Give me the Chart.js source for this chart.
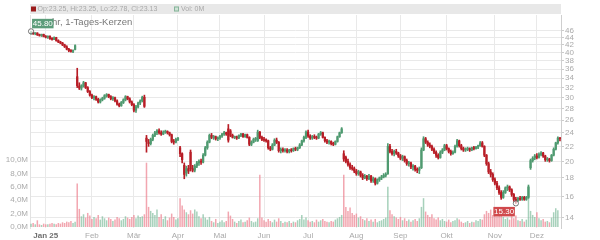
<!DOCTYPE html>
<html><head><meta charset="utf-8">
<script src="https://cdn.jsdelivr.net/npm/chart.js@4.4.1/dist/chart.umd.min.js"></script>
<style>html,body{margin:0;padding:0;background:#fff}#wrap{width:600px;height:240px;position:relative}</style>
</head><body><div id="wrap"><canvas id="c" width="600" height="240"></canvas></div>
<script>
// ---- categories: trading days (Dec 2024 - Dec 2025) ----
const tradingDays = {
 '2024-12': [17,18,19,20,23,27,30],
 '2025-01': [2,3,6,7,8,9,10,13,14,15,16,17,20,21,22,23,24,27,28,29,30,31],
 '2025-02': [3,4,5,6,7,10,11,12,13,14,17,18,19,20,21,24,25,26,27,28],
 '2025-03': [3,4,5,6,7,10,11,12,13,14,17,18,19,20,21,24,25,26,27,28,31],
 '2025-04': [1,2,3,4,7,8,9,10,11,14,15,16,17,22,23,24,25,28,29,30],
 '2025-05': [2,5,6,7,8,9,12,13,14,15,16,19,20,21,22,23,26,27,28,29,30],
 '2025-06': [2,3,4,5,6,9,10,11,12,13,16,17,18,19,20,23,24,25,26,27,30],
 '2025-07': [1,2,3,4,7,8,9,10,11,14,15,16,17,18,21,22,23,24,25,28,29,30,31],
 '2025-08': [1,4,5,6,7,8,11,12,13,14,15,18,19,20,21,22,25,26,27,28,29],
 '2025-09': [1,2,3,4,5,8,9,10,11,12,15,16,17,18,19,22,23,24,25,26,29,30],
 '2025-10': [1,2,3,6,7,8,9,10,13,14,15,16,17,20,21,22,23,24,27,28,29,30,31],
 '2025-11': [3,4,5,6,7,10,11,12,13,14,17,18,19,20,21,24,25,26,27,28],
 '2025-12': [1,2,3,4,5,8,9,10,11,12,15,16]
};
const monthTickLabels = {'2025-01':'Jan 25','2025-02':'Feb','2025-03':'Mär','2025-04':'Apr','2025-05':'Mai','2025-06':'Jun','2025-07':'Jul','2025-08':'Aug','2025-09':'Sep','2025-10':'Okt','2025-11':'Nov','2025-12':'Dez'};
const yearTickLabel = 'Jan 25';

// ---- series values ----
const openP = [45.2,45.5,45.1,45.3,44.8,44.6,44.9,44.3,44.1,44.4,43.7,43.5,44.0,43.2,42.8,42.5,42.0,41.5,40.9,40.5,40.3,40.8,
34.3,32.3,31.9,32.3,33.0,32.0,31.2,30.5,30.0,30.2,29.7,29.2,29.6,29.9,30.4,30.6,30.2,29.8,30.0,29.4,28.8,28.5,29.1,29.6,30.2,29.8,29.2,28.7,27.7,28.3,29.0,29.4,30.1,
23.2,22.6,22.4,23.0,23.6,24.0,24.3,24.0,23.8,24.1,24.2,24.0,23.7,22.7,22.6,23.0,
21.8,21.0,19.5,18.6,19.1,21.2,19.1,18.9,19.4,19.8,20.0,19.9,20.8,21.8,22.6,23.6,23.3,23.4,23.1,23.2,23.5,23.8,24.0,24.6,24.3,23.6,23.3,23.4,23.2,23.6,23.8,23.4,23.7,23.3,22.3,22.6,23.0,22.8,
24.1,23.3,23.0,22.9,22.8,21.8,21.6,22.2,22.9,22.6,21.4,21.6,21.4,21.5,21.3,21.5,21.4,21.7,21.6,21.8,22.2,22.8,23.3,24.1,23.5,23.2,23.4,23.3,23.2,23.8,24.0,23.3,22.8,22.6,22.7,22.4,22.3,22.7,23.4,24.0,
21.0,20.5,20.0,19.6,19.2,19.1,18.8,18.5,18.7,18.3,18.0,18.2,17.9,18.2,17.7,17.9,17.4,17.8,18.0,18.1,18.3,
18.5,22.0,21.3,21.0,21.3,21.1,20.7,20.4,20.6,20.1,19.7,19.8,19.3,19.4,19.0,18.9,19.2,21.5,23.1,22.6,22.2,22.0,21.6,21.2,20.8,20.5,21.2,21.5,22.1,21.7,21.3,21.0,21.2,22.0,22.8,22.1,21.7,21.5,21.6,21.7,21.5,21.8,21.7,21.9,22.1,22.5,
22.0,20.8,19.7,18.7,18.4,17.8,17.4,16.9,16.4,15.9,16.4,16.9,17.0,16.7,16.2,15.7,15.6,15.8,15.7,15.9,15.7,15.9,
19.2,20.1,20.4,20.7,20.5,20.9,21.1,20.7,20.2,20.3,20.1,20.8,21.6,22.5,23.25];
const highP = [45.8,45.6,45.4,45.4,45.0,45.0,45.0,44.6,44.5,44.5,44.0,44.2,44.1,43.4,43.0,42.7,42.2,41.8,41.1,40.8,40.7,42.0,
36.2,33.0,32.6,33.3,33.1,32.2,31.4,30.7,30.4,30.3,29.9,29.8,30.1,30.6,30.8,30.7,30.4,30.2,30.1,29.6,29.0,29.3,29.8,30.4,30.3,30.0,29.4,28.9,28.6,29.2,29.6,30.3,30.5,
23.6,23.0,23.2,23.8,24.2,24.5,24.6,24.3,24.3,24.4,24.3,24.1,23.8,23.0,23.2,23.3,
22.0,21.1,19.8,19.4,19.5,21.5,19.5,19.6,20.0,20.2,20.3,21.0,22.0,22.8,23.8,23.9,23.6,23.5,23.4,23.6,23.9,24.2,24.1,25.3,24.5,23.8,23.5,23.5,23.7,23.9,23.9,23.8,23.8,23.4,22.8,23.2,23.3,24.4,
24.2,23.5,23.3,23.1,22.9,22.0,22.4,23.1,23.2,22.7,21.8,21.8,21.7,21.7,21.6,21.7,21.8,21.9,21.9,22.4,22.9,23.5,24.3,24.4,23.7,23.6,23.7,23.5,23.9,24.2,24.1,23.4,23.0,22.9,22.8,22.6,22.8,23.5,24.1,24.8,
21.4,20.7,20.3,19.8,19.5,19.3,19.0,18.9,18.8,18.5,18.4,18.3,18.4,18.3,18.1,18.0,17.9,18.1,18.3,18.5,18.6,
22.4,22.3,21.6,21.5,21.6,21.2,20.9,20.8,20.7,20.3,20.0,19.9,19.6,19.5,19.2,19.3,21.8,23.4,23.3,22.8,22.5,22.2,21.8,21.4,21.0,21.4,21.7,22.3,22.3,21.8,21.5,21.4,22.2,23.0,22.9,22.3,21.9,21.8,21.9,21.8,21.9,22.0,22.0,22.2,22.7,22.7,
22.1,20.9,19.9,19.0,18.6,18.0,17.6,17.1,16.6,16.6,17.0,17.2,17.1,16.8,16.3,15.9,15.9,16.0,16.0,16.0,16.0,17.2,
20.3,20.6,20.9,21.0,21.1,21.3,21.2,20.8,20.5,20.4,20.9,21.8,22.6,23.4,23.25];
const lowP = [45.0,44.9,44.8,44.6,44.4,44.3,44.2,43.9,43.8,43.5,43.3,43.4,43.0,42.6,42.3,41.8,41.3,40.7,40.2,40.1,40.0,40.7,
32.0,31.6,31.5,32.1,31.8,31.0,30.3,29.8,29.6,29.5,29.0,29.0,29.4,29.7,30.1,30.0,29.6,29.5,29.2,28.6,28.3,28.4,28.9,29.4,29.6,29.0,28.5,27.4,27.3,28.1,28.7,29.2,28.2,
21.2,22.0,22.2,22.8,23.4,23.7,23.8,23.6,23.7,23.9,23.8,23.5,22.5,22.3,22.5,22.8,
20.6,19.8,17.9,18.2,18.5,18.8,18.7,18.7,19.2,19.5,19.6,19.8,20.7,21.6,22.5,23.1,23.0,22.9,22.8,23.0,23.3,23.6,23.6,22.6,23.4,23.2,23.1,23.0,23.1,23.4,23.3,23.3,23.2,22.1,22.1,22.5,22.7,22.7,
23.1,22.8,22.7,22.6,21.6,21.4,21.5,22.1,22.4,21.2,21.1,21.2,21.2,21.1,21.1,21.2,21.3,21.4,21.4,21.7,22.1,22.6,23.1,23.3,23.0,23.0,23.1,23.0,23.1,23.6,23.2,22.6,22.4,22.3,22.2,22.1,22.2,22.6,23.3,23.9,
20.0,19.8,19.4,19.0,18.9,18.6,18.3,18.3,18.1,17.8,17.9,17.7,17.8,17.5,17.5,17.2,17.3,17.6,17.8,18.0,18.1,
18.4,21.1,20.8,20.7,20.9,20.5,20.2,20.1,19.9,19.5,19.4,19.1,18.9,18.8,18.6,18.5,19.1,21.4,22.4,22.0,21.8,21.4,21.0,20.5,20.3,20.4,21.0,21.4,21.5,21.1,20.8,20.9,21.1,21.9,21.9,21.5,21.3,21.3,21.4,21.3,21.4,21.5,21.6,21.7,22.0,21.9,
20.6,19.5,18.5,18.1,17.6,17.2,16.7,16.2,15.7,15.8,16.3,16.6,16.5,16.0,15.5,15.3,15.5,15.6,15.6,15.6,15.6,15.8,
19.0,19.9,20.2,20.3,20.4,20.7,20.5,20.0,20.0,19.9,20.0,20.7,21.5,22.3,22.78];
const closeP = [45.5,45.1,45.3,44.8,44.6,44.9,44.3,44.1,44.4,43.7,43.5,44.0,43.2,42.8,42.5,42.0,41.5,40.9,40.5,40.3,40.5,41.8,
32.4,31.9,32.4,33.0,32.0,31.2,30.5,30.0,30.2,29.7,29.2,29.6,29.9,30.4,30.6,30.2,29.8,30.0,29.4,28.8,28.5,29.1,29.6,30.2,29.8,29.2,28.7,27.7,28.3,29.0,29.4,30.1,28.4,
22.7,22.4,23.0,23.6,24.0,24.3,24.0,23.8,24.1,24.2,24.0,23.7,22.7,22.6,23.0,23.1,
21.0,20.2,18.4,19.1,18.8,19.1,18.9,19.4,19.8,20.0,19.9,20.8,21.8,22.6,23.6,23.3,23.4,23.1,23.2,23.5,23.8,24.0,23.8,22.9,23.6,23.3,23.4,23.2,23.6,23.8,23.4,23.7,23.3,22.3,22.6,23.0,23.1,24.1,
23.3,23.0,22.9,22.8,21.8,21.6,22.2,22.9,22.6,21.4,21.6,21.4,21.5,21.3,21.5,21.4,21.7,21.6,21.8,22.2,22.8,23.3,24.1,23.5,23.2,23.4,23.3,23.2,23.8,24.0,23.3,22.8,22.6,22.7,22.4,22.3,22.7,23.4,24.0,24.6,
20.3,20.0,19.6,19.2,19.1,18.8,18.5,18.7,18.3,18.0,18.2,17.9,18.2,17.7,17.9,17.4,17.8,18.0,18.1,18.3,18.4,
22.0,21.3,21.0,21.3,21.1,20.7,20.4,20.6,20.1,19.7,19.8,19.3,19.4,19.0,18.9,19.1,21.5,23.1,22.6,22.2,22.0,21.6,21.2,20.8,20.5,21.2,21.5,22.1,21.7,21.3,21.0,21.2,22.0,22.8,22.1,21.7,21.5,21.6,21.7,21.5,21.8,21.7,21.9,22.1,22.5,22.0,
20.8,19.7,18.7,18.4,17.8,17.4,16.9,16.4,15.9,16.4,16.9,17.0,16.7,16.2,15.7,15.6,15.8,15.7,15.9,15.7,15.9,17.0,
20.1,20.4,20.7,20.5,20.9,21.1,20.7,20.2,20.3,20.1,20.8,21.6,22.5,23.2,23.13];
// volume in millions
const volumeM = [0.5,0.6,0.4,1.0,0.4,0.3,0.5,0.4,0.4,0.5,0.6,0.5,0.4,0.6,0.5,0.7,0.6,0.8,0.7,0.9,0.6,0.8,
6.5,2.7,1.6,1.9,1.4,2.1,1.7,
1.2,1.5,1.3,1.8,1.1,1.6,1.3,1.0,1.4,1.2,0.9,1.1,1.5,1.3,1.0,1.2,1.6,1.4,1.2,1.5,1.8,1.3,1.7,1.5,1.6,1.9,
9.6,3.0,2.4,2.1,1.8,2.6,1.5,1.9,1.2,1.6,1.0,1.4,2.0,1.5,1.1,1.3,
4.3,3.2,2.6,2.2,1.9,2.5,2.0,2.6,2.3,1.6,1.3,1.9,1.4,1.1,1.5,
0.9,0.7,1.2,0.6,0.8,1.0,0.7,0.9,2.3,1.7,1.2,0.8,0.6,0.9,1.1,0.7,0.8,1.0,1.4,0.9,0.7,0.8,1.3,
7.8,
1.4,1.0,0.8,1.2,0.9,0.7,1.1,0.8,1.3,0.9,0.6,0.8,0.7,0.9,0.6,0.8,0.7,1.0,1.2,1.8,1.1,1.4,1.0,0.8,0.9,0.7,1.1,0.8,1.0,1.2,0.9,0.8,0.7,0.9,0.8,1.1,1.3,1.5,1.8,
7.8,
3.0,2.4,2.9,2.1,1.8,2.0,1.4,1.6,1.2,1.0,1.3,0.9,1.1,0.8,1.2,0.7,0.9,1.0,1.2,1.4,
6.0,
2.5,1.9,1.6,1.4,1.2,1.5,1.0,1.3,0.9,1.1,0.8,1.0,1.2,0.9,1.3,
3.0,4.3,
2.3,1.8,1.5,1.9,1.3,1.1,1.4,1.0,1.2,0.9,0.8,1.1,0.7,0.9,1.0,1.3,1.1,0.8,0.6,0.7,0.9,0.6,0.8,0.7,1.0,0.9,1.2,1.1,
1.9,2.4,2.1,2.6,1.8,2.2,1.6,1.9,2.0,
1.5,1.2,1.4,1.1,1.6,1.3,1.7,1.0,0.9,1.2,0.8,1.1,
6.0,
2.4,1.8,1.5,2.2,1.3,1.0,1.2,0.8,0.9,0.7,
1.4,2.2,2.8,2.5,0];

// ---- tick labels ----
const priceTicks = [14,16,18,20,22,24,26,28,30,32,34,36,38,40,42,44,46];
const volumeTicksM = [0,2,4,6,8,10];
const titleText = '1 Jahr, 1-Tages-Kerzen';

// ---- build categories ----
const labels = [];
const monthStartLabel = {};
Object.keys(tradingDays).forEach(m => {
  tradingDays[m].forEach((d, k) => {
    if (k === 0 && monthTickLabels[m]) monthStartLabel[labels.length] = monthTickLabels[m];
    labels.push(m + '-' + String(d).padStart(2, '0'));
  });
});
if ([openP,highP,lowP,closeP,volumeM].some(a => a.length !== labels.length)) {
  console.error('length mismatch', labels.length, openP.length, highP.length, lowP.length, closeP.length, volumeM.length);
}

const UP = '#4f9a70', DOWN = '#b81d26';
const UPV = 'rgba(120,185,150,0.65)', DOWNV = 'rgba(236,128,142,0.7)';
const isUp = closeP.map((c, i) => c >= openP[i]);
const candleCol = isUp.map(u => u ? UP : DOWN);
const volCol = isUp.map(u => u ? UPV : DOWNV);

const FONT = "'Liberation Sans', Arial, sans-serif";
Chart.defaults.font.family = FONT;

const overlay = {
  id: 'overlay',
  afterDraw(chart) {
    const ctx = chart.ctx, a = chart.chartArea;
    const xs = chart.scales.x, ys = chart.scales.y;
    const n = labels.length - 1;
    ctx.save();
    // header bar
    ctx.fillStyle = '#e8e8e8';
    ctx.fillRect(a.left, 4, a.right - a.left, 10);
    ctx.fillStyle = isUp[n] ? UP : '#9b1c1c';
    ctx.fillRect(31, 6.5, 5, 5);
    ctx.font = '7px ' + FONT;
    ctx.fillStyle = '#a8a8a8';
    ctx.textBaseline = 'middle';
    const hdr = 'Op:' + openP[n].toFixed(2) + ', Hi:' + highP[n].toFixed(2) + ', Lo:' + lowP[n].toFixed(2) + ', Cl:' + closeP[n].toFixed(2);
    ctx.fillText(hdr, 37.5, 9.3);
    ctx.fillStyle = '#cfe3d6'; ctx.fillRect(174, 6.5, 5, 5);
    ctx.strokeStyle = '#86b39a'; ctx.lineWidth = 1; ctx.strokeRect(174.5, 7, 4, 4);
    ctx.fillStyle = '#a8a8a8';
    ctx.fillText('Vol: ' + Math.round(volumeM[n]) + 'M', 181, 9.3);
    // title
    ctx.font = '9.5px ' + FONT;
    ctx.fillStyle = '#777';
    ctx.fillText(titleText, 34, 22);
    // max / min markers
    let iMax = 0, iMin = 0;
    highP.forEach((v, i) => { if (v > highP[iMax]) iMax = i; });
    lowP.forEach((v, i) => { if (v < lowP[iMin]) iMin = i; });
    const drawMark = (i, v, fill, dx, dy) => {
      const x = xs.getPixelForValue(i), y = ys.getPixelForValue(v);
      ctx.beginPath(); ctx.arc(x, y, 2.6, 0, Math.PI * 2);
      ctx.fillStyle = 'rgba(255,255,255,0.6)'; ctx.fill();
      ctx.strokeStyle = '#555'; ctx.lineWidth = 0.8; ctx.stroke();
      const w = 21.5, h = 9.5;
      const bx = x + dx, by = y + dy;
      ctx.fillStyle = fill; ctx.fillRect(bx, by, w, h);
      ctx.fillStyle = '#fff'; ctx.font = '8px ' + FONT;
      ctx.textAlign = 'center'; ctx.textBaseline = 'middle';
      ctx.fillText(v.toFixed(2), bx + w / 2, by + h / 2 + 0.5);
      ctx.textAlign = 'left';
    };
    drawMark(iMax, highP[iMax], '#5c9c7a', 1, -12.5);
    drawMark(iMin, lowP[iMin], '#d0494c', -22.5, 3.5);
    ctx.restore();
  }
};

new Chart(document.getElementById('c'), {
  type: 'bar',
  data: {
    labels,
    datasets: [
      { label: 'vol', data: volumeM, yAxisID: 'yv', backgroundColor: volCol, barPercentage: 0.72, categoryPercentage: 1, grouped: false, order: 3 },
      { label: 'wick', data: lowP.map((l, i) => [l, highP[i]]), yAxisID: 'y', backgroundColor: candleCol, barThickness: 1, grouped: false, order: 2 },
      { label: 'body', data: openP.map((o, i) => [o, closeP[i]]), yAxisID: 'y', backgroundColor: candleCol, barThickness: 1.6, minBarLength: 1, grouped: false, order: 1 }
    ]
  },
  options: {
    responsive: false, animation: false,
    layout: { padding: { top: 15, left: 0, right: 0, bottom: 0 } },
    plugins: { legend: { display: false }, tooltip: { enabled: false } },
    scales: {
      x: {
        type: 'category', offset: true,
        grid: { offset: false, color: '#e9e9e9', drawTicks: false },
        border: { display: false },
        ticks: {
          autoSkip: false, maxRotation: 0, padding: 3,
          callback: (v, i) => (monthStartLabel[i] !== undefined ? monthStartLabel[i] : null),
          color: ctx => (ctx.tick && ctx.tick.label === yearTickLabel) ? '#6f6f6f' : '#aaa',
          font: ctx => ({ size: 8, weight: (ctx.tick && ctx.tick.label === yearTickLabel) ? 'bold' : 'normal' })
        },
        afterFit: s => { s.height = 12; }
      },
      y: {
        type: 'logarithmic', position: 'right', min: 13.08, max: 50.82,
        afterBuildTicks: s => { s.ticks = priceTicks.map(v => ({ value: v })); },
        grid: { color: '#e9e9e9', tickLength: 3, tickColor: '#ccc' },
        border: { display: true, color: '#cfcfcf' },
        ticks: { callback: v => String(v), color: '#aaa', font: { size: 8 }, padding: 1 },
        afterFit: s => { s.width = 39; }
      },
      yv: {
        type: 'linear', position: 'left', min: -0.15, max: 31.64,
        afterBuildTicks: s => { s.ticks = volumeTicksM.map(v => ({ value: v })); },
        grid: { display: false, drawTicks: false },
        border: { display: true, color: '#e2e2e2' },
        ticks: { callback: v => v.toFixed(1).replace('.', ',') + 'M', color: '#aaa', font: { size: 8 }, padding: 2 },
        afterFit: s => { s.width = 30; }
      }
    }
  },
  plugins: [overlay]
});
</script></body></html>
